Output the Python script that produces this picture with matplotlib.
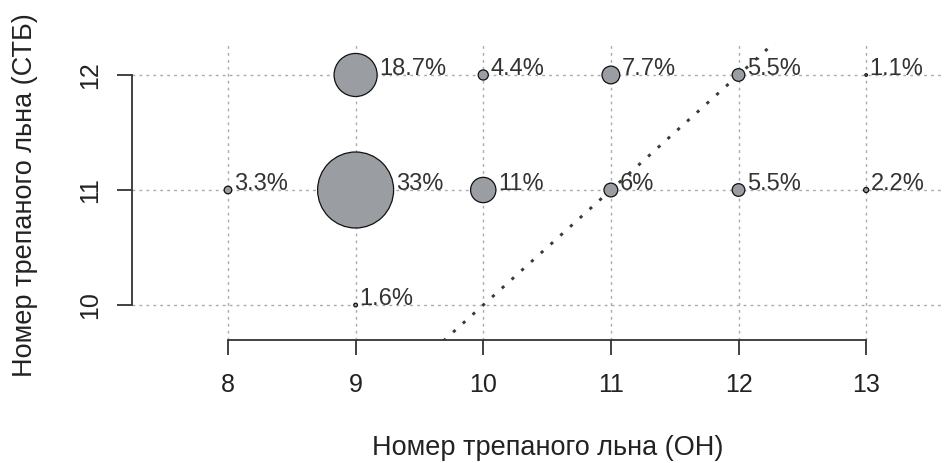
import matplotlib.pyplot as plt

plt.rcParams['font.family'] = ['Liberation Sans', 'DejaVu Sans']

# grade (OH) vs grade (STB), share of samples in percent
grade_oh = [9, 10, 11, 12, 13, 8, 9, 10, 11, 12, 13, 9]
grade_stb = [12, 12, 12, 12, 12, 11, 11, 11, 11, 11, 11, 10]
share = [18.7, 4.4, 7.7, 5.5, 1.1, 3.3, 33, 11, 6, 5.5, 2.2, 1.6]

x_ticks = [8, 9, 10, 11, 12, 13]
y_ticks = [10, 11, 12]

DPI = 100
W, H = 944, 463


def main():
    fig = plt.figure(figsize=(W / DPI, H / DPI), dpi=DPI)
    # plot region in pixels: left 132, right 944, top 43, bottom 340
    ax = fig.add_axes([132 / W, (H - 340) / H, (W - 132) / W, (340 - 43) / H])
    ax.set_xlim(7.248, 13.61)
    ax.set_ylim(9.696, 12.278)

    for v in x_ticks:
        ax.axvline(v, color='#aaaaaa', lw=1, dashes=(2, 3), zorder=1)
    for v in y_ticks:
        ax.axhline(v, color='#aaaaaa', lw=1, dashes=(2, 3), zorder=1)

    # circle radius grows linearly with the share
    px_per_pct = 38 / 33
    radius_pt = [p * px_per_pct * 72 / DPI for p in share]
    sizes = [(2 * r) ** 2 for r in radius_pt]
    ax.scatter(grade_oh, grade_stb, s=sizes, color='#9a9da2',
               edgecolor='#111111', linewidth=0.9, zorder=3)

    for x, y, p, r in zip(grade_oh, grade_stb, share, radius_pt):
        ax.annotate(f'{p:g}%', (x, y), xytext=(r + 1.5, 0),
                    textcoords='offset points', ha='left', va='baseline',
                    fontsize=17, color='#333333', zorder=4)

    # y = x reference line
    ax.plot([7, 14], [7, 14], color='#3a3a3a', lw=2.1, dashes=(1.1, 3.4),
            zorder=2)

    for side in ['top', 'right']:
        ax.spines[side].set_visible(False)
    ax.spines['left'].set_bounds(10, 12)
    ax.spines['bottom'].set_bounds(8, 13)
    for side in ['left', 'bottom']:
        ax.spines[side].set_color('#333333')
        ax.spines[side].set_linewidth(1.3)

    ax.set_xticks(x_ticks)
    ax.set_yticks(y_ticks)
    ax.tick_params(axis='both', length=10.8, width=1.3, color='#333333',
                   labelsize=18, labelcolor='#222222')
    ax.tick_params(axis='x', pad=13)
    ax.tick_params(axis='y', pad=11)
    for lbl in ax.get_yticklabels():
        lbl.set_rotation(90)
        lbl.set_va('center')

    fig.text(548 / W, 1 - 448 / H, 'Номер трепаного льна (ОН)', ha='center',
             va='center', fontsize=19.5, color='#222222')
    fig.text(25 / W, 1 - 195 / H, 'Номер трепаного льна (СТБ)', ha='center',
             va='center', rotation=90, fontsize=19.5, color='#222222')

    fig.savefig('out.png', dpi=DPI)


if __name__ == '__main__':
    main()
